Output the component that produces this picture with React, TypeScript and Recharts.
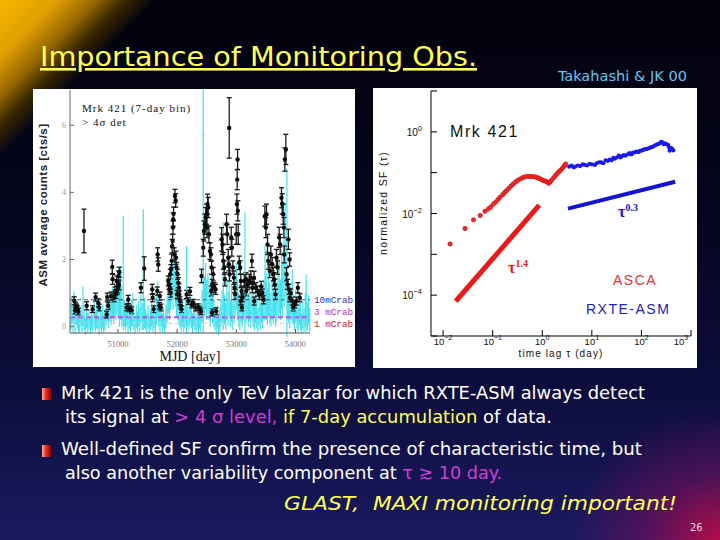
import { ScatterChart, Scatter, XAxis, YAxis, ErrorBar, ReferenceLine } from 'recharts';

const SERIF = "'Liberation Serif', 'DejaVu Serif', serif";
const SANS = "'Liberation Sans', Arial, sans-serif";
const MONO = "'Liberation Mono', 'DejaVu Sans Mono', monospace";
const SLIDE = "'DejaVu Sans Condensed', 'DejaVu Sans', sans-serif";

// ---- ASM light curve ----
// 7-day bins above 4 sigma: [MJD, rate (cts/s), error]
const weeklyBins: [number, number, number][] = [
  [50262, 0.77, 0.12], [50275, 0.48, 0.1], [50285, 0.62, 0.1], [50302, 0.57, 0.1], [50320, 0.52, 0.1],
  [50330, 0.45, 0.1], [50426, 2.85, 0.65], [50471, 0.62, 0.12], [50571, 0.52, 0.1], [50622, 0.88, 0.12],
  [50667, 0.71, 0.12], [50684, 0.57, 0.1], [50810, 0.36, 0.1], [50819, 0.88, 0.12], [50836, 0.62, 0.1],
  [50882, 0.91, 0.12], [50904, 1.78, 0.2], [50910, 1.41, 0.15], [50937, 0.86, 0.12], [50948, 1.06, 0.12],
  [50966, 0.96, 0.12], [50978, 1.36, 0.15], [50988, 1.08, 0.12], [51005, 1.16, 0.15], [51012, 1.51, 0.15],
  [51017, 1.24, 0.15], [51022, 1.62, 0.15], [51147, 0.57, 0.1], [51174, 0.81, 0.12], [51191, 0.54, 0.1],
  [51231, 0.49, 0.1], [51389, 1.16, 0.15], [51444, 1.73, 0.35], [51579, 1.11, 0.15], [51586, 0.86, 0.12],
  [51603, 0.52, 0.1], [51664, 1.06, 0.12], [51671, 2.15, 0.2], [51681, 1.85, 0.2], [51700, 0.62, 0.1],
  [51709, 0.91, 0.12], [51726, 0.57, 0.1], [51850, 1.36, 0.15], [51861, 1.26, 0.15], [51872, 1.11, 0.15],
  [51878, 1.16, 0.12], [51883, 1.56, 0.15], [51890, 1.0, 0.12], [51895, 1.7, 0.15], [51907, 1.96, 0.2],
  [51917, 2.4, 0.2], [51924, 2.55, 0.2], [51930, 2.95, 0.2], [51934, 3.19, 0.2], [51940, 3.36, 0.2],
  [51951, 2.15, 0.2], [51963, 3.89, 0.2], [51975, 3.76, 0.2], [51980, 2.05, 0.2], [51991, 1.76, 0.15],
  [51998, 0.96, 0.12], [52008, 1.56, 0.15], [52020, 1.31, 0.15], [52030, 1.16, 0.12], [52036, 0.96, 0.12],
  [52047, 0.77, 0.12], [52058, 0.62, 0.1], [52075, 0.52, 0.1], [52160, 0.96, 0.12], [52188, 0.76, 0.1],
  [52216, 1.05, 0.12], [52245, 0.66, 0.1], [52273, 0.71, 0.1], [52312, 0.57, 0.1], [52357, 0.58, 0.1],
  [52385, 0.51, 0.1], [52402, 0.46, 0.1], [52412, 1.51, 0.2], [52441, 2.35, 0.25], [52452, 2.85, 0.3],
  [52469, 3.05, 0.3], [52481, 3.25, 0.3], [52497, 3.35, 0.3], [52503, 2.95, 0.3], [52514, 3.65, 0.3],
  [52525, 3.55, 0.3], [52537, 2.75, 0.25], [52554, 2.25, 0.25], [52571, 2.15, 0.2], [52576, 1.06, 0.15],
  [52582, 1.76, 0.2], [52590, 0.42, 0.1], [52593, 1.26, 0.15], [52610, 1.56, 0.2], [52627, 1.16, 0.15],
  [52650, 1.11, 0.15], [52660, 0.46, 0.1], [52751, 2.6, 0.35], [52768, 2.45, 0.3], [52779, 1.96, 0.25],
  [52796, 1.76, 0.2], [52807, 1.41, 0.2], [52835, 3.05, 0.3], [52846, 2.75, 0.3], [52863, 2.05, 0.25],
  [52874, 1.86, 0.2], [52880, 5.92, 0.9], [52886, 1.56, 0.2], [52914, 2.66, 0.3], [52925, 2.35, 0.25],
  [52942, 1.76, 0.2], [52959, 1.46, 0.2], [52970, 1.16, 0.15], [52981, 0.96, 0.15], [52998, 2.75, 0.3],
  [53010, 3.65, 0.3], [53015, 4.38, 0.3], [53021, 4.98, 0.3], [53026, 3.45, 0.3], [53032, 2.75, 0.3],
  [53049, 1.9, 0.2], [53066, 1.76, 0.2], [53072, 0.76, 0.12], [53077, 1.36, 0.2], [53088, 1.06, 0.15],
  [53094, 0.57, 0.1], [53105, 0.86, 0.12], [53134, 1.36, 0.2], [53162, 1.41, 0.2], [53168, 1.06, 0.15],
  [53190, 1.26, 0.15], [53218, 1.36, 0.2], [53246, 1.46, 0.2], [53263, 1.96, 0.2], [53274, 1.16, 0.15],
  [53280, 1.3, 0.15], [53300, 1.45, 0.2], [53302, 0.76, 0.12], [53330, 1.16, 0.15], [53358, 1.06, 0.15],
  [53387, 0.96, 0.15], [53420, 1.2, 0.15], [53440, 1.0, 0.12], [53460, 0.8, 0.12], [53482, 3.29, 0.3],
  [53499, 2.95, 0.3], [53510, 3.35, 0.3], [53527, 2.45, 0.3], [53538, 1.96, 0.25], [53566, 1.66, 0.2],
  [53583, 2.15, 0.25], [53606, 1.86, 0.2], [53623, 1.56, 0.2], [53640, 1.41, 0.2], [53651, 1.26, 0.15],
  [53662, 0.96, 0.15], [53679, 2.05, 0.25], [53696, 1.76, 0.2], [53724, 2.66, 0.3], [53741, 2.45, 0.3],
  [53763, 3.84, 0.3], [53775, 3.66, 0.3], [53792, 3.35, 0.3], [53803, 2.95, 0.3], [53809, 2.15, 0.25],
  [53820, 4.98, 0.35], [53837, 5.28, 0.45], [53848, 1.56, 0.2], [53865, 1.26, 0.15], [53880, 2.6, 0.3],
  [53888, 1.11, 0.15], [53900, 2.0, 0.2], [53905, 0.86, 0.12], [53921, 1.0, 0.12], [53944, 0.76, 0.12],
  [53961, 0.57, 0.1], [53989, 0.66, 0.1], [54017, 0.76, 0.12], [54040, 1.16, 0.15], [54073, 0.86, 0.12],
];

// daily ASM points: [MJD, rate (cts/s), error]
const dailyPoints: [number, number, number][] = [
  [50205, 0.3, 0.4], [50220, 0.5, 0.4], [50240, 0.2, 0.35], [50258, 0.6, 0.45], [50275, 0.1, 0.3],
  [50295, 0.4, 0.35], [50315, 0.25, 0.3], [50335, 0.05, 0.25], [50355, 0.15, 0.3], [50378, 0.3, 0.3],
  [50395, 0.1, 0.25], [50410, 0.6, 0.6], [50430, 0.2, 0.3], [50450, 0.0, 0.25], [50470, 0.3, 0.35],
  [50490, 0.1, 0.3], [50512, 0.2, 0.3], [50535, 0.05, 0.25], [50555, 0.25, 0.3], [50575, 0.1, 0.25],
  [50598, 0.35, 0.4], [50620, 0.15, 0.3], [50640, 0.45, 0.5], [50660, 0.2, 0.3], [50680, 0.0, 0.25],
  [50700, 0.25, 0.3], [50720, 0.1, 0.3], [50742, 0.3, 0.35], [50760, 0.05, 0.25], [50780, 0.2, 0.3],
  [50800, 0.4, 0.35], [50822, 0.55, 0.4], [50845, 0.3, 0.35], [50865, 0.6, 0.45], [50885, 0.45, 0.4],
  [50905, 0.7, 0.45], [50925, 0.5, 0.4], [50945, 0.8, 0.5], [50965, 0.6, 0.4], [50985, 0.9, 0.5],
  [51005, 0.7, 0.45], [51025, 0.5, 0.5], [51045, 1.0, 0.8], [51065, 0.6, 0.6], [51090, 1.6, 1.7],
  [51110, 0.4, 0.4], [51130, 0.2, 0.3], [51150, 0.35, 0.35], [51170, 0.1, 0.3], [51190, 0.3, 0.35],
  [51210, 0.15, 0.3], [51230, 0.4, 0.4], [51250, 0.5, 0.5], [51270, 0.2, 0.3], [51290, 0.05, 0.25],
  [51310, 0.3, 0.35], [51330, 0.15, 0.3], [51350, 0.4, 0.4], [51370, 0.2, 0.35], [51390, 0.55, 0.45],
  [51410, 0.3, 0.4], [51428, 1.7, 1.8], [51450, 0.4, 0.45], [51470, 0.2, 0.3], [51490, 0.1, 0.3],
  [51510, 0.3, 0.35], [51530, 0.05, 0.25], [51550, 0.2, 0.3], [51570, 0.4, 0.4], [51590, 0.15, 0.3],
  [51610, 0.3, 0.35], [51630, 0.1, 0.3], [51650, 0.5, 0.45], [51672, 0.8, 0.55], [51690, 0.4, 0.4],
  [51710, 0.2, 0.35], [51730, 0.35, 0.35], [51750, 0.1, 0.3], [51770, 0.25, 0.3], [51790, 0.05, 0.25],
  [51810, 0.3, 0.35], [51830, 0.5, 0.4], [51850, 0.9, 0.5], [51870, 0.7, 0.5], [51890, 1.1, 0.6],
  [51910, 1.4, 0.6], [51930, 1.2, 0.7], [51950, 1.6, 0.7], [51970, 1.3, 0.7], [51990, 0.9, 0.6],
  [52010, 0.7, 0.5], [52030, 0.5, 0.45], [52050, 0.35, 0.4], [52070, 0.2, 0.35], [52090, 0.4, 0.4],
  [52110, 0.15, 0.3], [52130, 0.3, 0.35], [52150, 0.5, 0.45], [52160, 1.1, 1.3], [52180, 0.4, 0.4],
  [52200, 0.2, 0.3], [52220, 0.5, 0.45], [52240, 0.3, 0.35], [52260, 0.1, 0.3], [52280, 0.35, 0.35],
  [52300, 0.2, 0.3], [52320, 0.05, 0.25], [52340, 0.25, 0.3], [52360, 0.1, 0.3], [52380, 0.3, 0.35],
  [52400, 0.2, 0.35], [52420, 0.6, 0.5], [52441, 5.7, 5.9], [52460, 0.9, 0.6], [52480, 1.2, 0.7],
  [52500, 0.8, 0.6], [52520, 1.0, 0.6], [52540, 0.7, 0.5], [52560, 0.5, 0.5], [52580, 0.9, 0.6],
  [52600, 0.6, 0.5], [52620, 0.4, 0.4], [52640, 0.25, 0.35], [52660, 0.1, 0.3], [52680, 0.3, 0.35],
  [52700, 0.05, 0.3], [52720, 0.2, 0.35], [52740, 0.4, 0.4], [52760, 0.6, 0.5], [52780, 1.5, 1.6],
  [52800, 0.5, 0.45], [52820, 0.3, 0.4], [52840, 0.8, 0.6], [52860, 0.5, 0.5], [52880, 1.0, 0.7],
  [52900, 0.4, 0.4], [52920, 0.7, 0.55], [52940, 0.3, 0.4], [52960, 0.6, 0.5], [52980, 0.9, 0.6],
  [53000, 1.2, 0.7], [53020, 0.8, 0.6], [53040, 0.5, 0.5], [53060, 0.3, 0.4], [53080, 0.6, 0.5],
  [53100, 0.4, 0.4], [53120, 0.7, 0.5], [53145, 1.6, 1.8], [53165, 0.6, 0.5], [53185, 0.9, 0.6],
  [53205, 0.5, 0.5], [53225, 0.7, 0.55], [53245, 0.4, 0.45], [53265, 0.8, 0.6], [53285, 0.5, 0.5],
  [53305, 0.3, 0.4], [53325, 0.6, 0.5], [53345, 0.4, 0.45], [53365, 0.2, 0.35], [53385, 0.5, 0.45],
  [53405, 0.3, 0.4], [53425, 0.6, 0.5], [53445, 0.4, 0.45], [53465, 0.8, 0.6], [53485, 1.3, 1.1],
  [53505, 0.9, 0.7], [53525, 0.6, 0.55], [53545, 1.0, 0.7], [53565, 0.7, 0.6], [53585, 0.5, 0.5],
  [53605, 0.8, 0.6], [53625, 0.6, 0.5], [53645, 0.9, 0.6], [53665, 0.5, 0.5], [53685, 0.7, 0.55],
  [53705, 1.0, 0.7], [53725, 1.2, 0.8], [53745, 0.8, 0.6], [53765, 1.4, 0.9], [53785, 1.1, 0.8],
  [53805, 1.6, 1.0], [53825, 2.2, 1.5], [53855, 2.2, 2.5], [53870, 0.9, 0.7], [53885, 0.6, 0.5],
  [53905, 0.4, 0.45], [53925, 0.7, 0.5], [53945, 0.9, 0.8], [53965, 0.5, 0.45], [53985, 0.3, 0.4],
  [54005, 0.6, 0.5], [54025, 0.4, 0.45], [54045, 0.2, 0.35], [54065, 0.5, 0.45], [54085, 0.3, 0.4],
  [54105, 0.1, 0.3], [54125, 0.35, 0.4], [54145, 0.2, 0.35], [54165, 0.5, 0.5], [54180, 0.7, 0.85],
  [54200, 0.3, 0.4], [54220, 0.5, 0.45], [54240, 0.2, 0.35],
];

const crabLevels = [0.8, 0.28, 0.1];
const crabNames = ['10mCrab', '3 mCrab', '1 mCrab'];
const mjdTicks = [51000, 52000, 53000, 54000];
const mjdMinorTicks = [50500, 51000, 51500, 52000, 52500, 53000, 53500, 54000];
const rateTicks = [0, 2, 4, 6];

// ---- structure function ----
// ASCA: [lag (day), normalized SF]
const ascaSF: [number, number][] = [
  [0.0138, 0.0018], [0.0277, 0.0043], [0.041, 0.007], [0.056, 0.0089], [0.07, 0.0114], [0.082, 0.013],
  [0.092, 0.0145], [0.103, 0.017], [0.115, 0.019], [0.128, 0.022], [0.14, 0.025], [0.16, 0.029],
  [0.175, 0.033], [0.19, 0.036], [0.21, 0.041], [0.235, 0.047], [0.26, 0.053], [0.29, 0.059],
  [0.32, 0.065], [0.36, 0.07], [0.4, 0.075], [0.44, 0.078], [0.49, 0.081], [0.55, 0.081], [0.6, 0.08],
  [0.66, 0.08], [0.73, 0.078], [0.8, 0.075], [0.85, 0.073], [0.91, 0.07], [0.98, 0.067], [1.06, 0.064],
  [1.15, 0.062], [1.24, 0.06], [1.34, 0.055], [1.45, 0.06], [1.55, 0.066], [1.7, 0.075], [1.85, 0.085],
  [2.0, 0.095], [2.15, 0.105], [2.3, 0.112], [2.5, 0.125], [2.7, 0.14], [2.85, 0.15], [2.97, 0.163],
];
// RXTE-ASM: [lag (day), normalized SF]
const asmSF: [number, number][] = [
  [3.5, 0.14], [3.9, 0.15], [4.3, 0.135], [4.6, 0.14], [5.2, 0.15], [5.8, 0.145], [6.5, 0.16], [7.2, 0.155],
  [8.0, 0.15], [9.0, 0.165], [10, 0.16], [11.5, 0.155], [12.5, 0.17], [14, 0.18], [15.5, 0.178], [17, 0.17],
  [19, 0.2], [21, 0.195], [23, 0.21], [25, 0.2], [27, 0.23], [29, 0.22], [32, 0.235], [35, 0.26], [38, 0.235],
  [40, 0.25], [44, 0.27], [48, 0.26], [54, 0.286], [58, 0.3], [63, 0.28], [68, 0.31], [74, 0.315], [80, 0.33],
  [87, 0.32], [93, 0.34], [100, 0.345], [108, 0.36], [115, 0.37], [125, 0.38], [135, 0.39], [145, 0.4],
  [158, 0.42], [170, 0.43], [185, 0.46], [200, 0.48], [215, 0.5], [230, 0.52], [250, 0.57], [265, 0.55],
  [280, 0.5], [300, 0.52], [320, 0.5], [345, 0.48], [360, 0.42], [370, 0.345], [385, 0.38], [400, 0.4],
  [420, 0.38], [440, 0.35],
];
// power-law guides: SF ~ tau^1.4 and SF ~ tau^0.3
const steepFit: [number, number][] = [[0.018, 7.1e-5], [0.87, 0.016]];
const flatFit: [number, number][] = [[3.3, 0.0132], [480, 0.06]];
const lagTicks = [0.01, 0.1, 1, 10, 100, 1000];
const sfTicks = [1e-5, 1e-4, 1e-3, 1e-2, 1e-1, 1, 10];

const toRate = (rows: [number, number, number][]) => rows.map(([x, y, e]) => ({ x, y, e }));
const toXY = (rows: [number, number][]) => rows.map(([x, y]) => ({ x, y }));

function power(v: number) {
  const p = Math.round(Math.log10(v));
  return p < 0 ? `\u2212${-p}` : `${p}`;
}

function LagTick({ x, y, payload }: any) {
  return (
    <text x={x} y={y + 8.5} textAnchor="middle" fontSize={9.5} fontFamily={SANS} fill="#111">
      10<tspan dy={-4.5} fontSize={7}>{power(payload.value)}</tspan>
    </text>
  );
}

function SfTick({ x, y, payload }: any) {
  const p = Math.round(Math.log10(payload.value));
  if (p % 2 !== 0) return <g />;
  return (
    <text x={x - 9} y={y + 4} textAnchor="end" fontSize={10} fontFamily={SANS} fill="#111">
      10<tspan dy={-5} fontSize={7.5}>{power(payload.value)}</tspan>
    </text>
  );
}

const cyan = '#3fe2ee';
const crabLine = ['#48507a', '#b84cf2', '#e6c4c8'];
const crabText = ['#2f2fd0', '#c61fc6', '#e01515'];
// the three level names sit on a 12px pitch to the right of the frame
const crabTextShift = [3, -2, 4];

function crabLabel(i: number) {
  return (props: any) => {
    const vb = props.viewBox || {};
    return (
      <text
        x={vb.x + vb.width + 4} y={vb.y + crabTextShift[i]}
        fill={crabText[i]} fontSize={9.3} fontFamily={MONO}
      >
        {crabNames[i]}
      </text>
    );
  };
}

function LightCurve() {
  return (
    <ScatterChart width={322} height={278} margin={{ top: 1, right: 45, bottom: 0, left: 0 }}>
      <XAxis
        type="number" dataKey="x" domain={[50190, 54245]} allowDataOverflow ticks={mjdTicks}
        height={34} tickSize={-4} tickMargin={12} stroke="#555"
        tick={{ fontSize: 8.5, fill: '#777', fontFamily: SERIF }}
        label={{ value: 'MJD [day]', position: 'insideBottom', offset: 6, fill: '#111', fontSize: 14, fontFamily: SERIF }}
      />
      <XAxis
        xAxisId="top" orientation="top" type="number" domain={[50190, 54245]} allowDataOverflow
        ticks={mjdMinorTicks} height={0} tickSize={-3} tick={false} stroke="#c8c8c8"
      />
      <YAxis
        type="number" dataKey="y" domain={[-0.19, 7.05]} allowDataOverflow ticks={rateTicks}
        width={37} tickSize={-4} tickMargin={8} stroke="#666"
        tick={{ fontSize: 8, fill: '#999', fontFamily: SERIF }}
      />
      <YAxis
        yAxisId="right" orientation="right" type="number" domain={[-0.19, 7.05]} allowDataOverflow
        ticks={rateTicks} width={0} tickSize={-4} tick={false} stroke="#d8d8d8"
      />
      <Scatter
        data={toRate(dailyPoints)} isAnimationActive={false}
        shape={(p: any) => <circle cx={p.cx} cy={p.cy} r={1} fill={cyan} />}
      >
        <ErrorBar dataKey="e" direction="y" width={0} stroke={cyan} strokeWidth={1.2} />
      </Scatter>
      {crabLevels.map((lvl, i) => (
        <ReferenceLine
          key={crabNames[i]} y={lvl} stroke={crabLine[i]} strokeWidth={i === 1 ? 2 : 1}
          strokeDasharray={i === 1 ? '5 3' : '4 3'}
          label={crabLabel(i)}
        />
      ))}
      <Scatter
        data={toRate(weeklyBins)} isAnimationActive={false}
        shape={(p: any) => <circle cx={p.cx} cy={p.cy} r={2.2} fill="#0c0c0c" />}
      >
        <ErrorBar dataKey="e" direction="y" width={2.5} stroke="#1a1a1a" strokeWidth={1.3} />
      </Scatter>
    </ScatterChart>
  );
}

function StructureFunction() {
  return (
    <ScatterChart width={324} height={280} margin={{ top: 3, right: 6, bottom: 0, left: 0 }}>
      <XAxis
        type="number" dataKey="x" scale="log" domain={[0.0057, 1000]} allowDataOverflow ticks={lagTicks}
        height={32} tickSize={-6} tickMargin={6} stroke="#000" tick={<LagTick />}
        label={{ value: 'time lag \u03c4 (day)', position: 'insideBottom', offset: 11, fill: '#111', fontSize: 10, fontFamily: SANS, letterSpacing: 1.1 }}
      />
      <XAxis
        xAxisId="top" orientation="top" type="number" scale="log" domain={[0.0057, 1000]} allowDataOverflow
        ticks={lagTicks} height={0} tickSize={-6} tick={false} stroke="#000"
      />
      <YAxis
        type="number" dataKey="y" scale="log" domain={[1e-5, 10]} allowDataOverflow ticks={sfTicks}
        width={58} tickSize={-6} tickMargin={6} stroke="#000" tick={<SfTick />}
      />
      <YAxis
        yAxisId="right" orientation="right" type="number" scale="log" domain={[1e-5, 10]} allowDataOverflow
        ticks={sfTicks} width={0} tickSize={-6} tick={false} stroke="#000"
      />
      <Scatter
        data={toXY(steepFit)} isAnimationActive={false} line={{ stroke: '#ea1a1a', strokeWidth: 5 }}
        shape={() => <g />}
      />
      <Scatter
        data={toXY(flatFit)} isAnimationActive={false} line={{ stroke: '#1414d2', strokeWidth: 4 }}
        shape={() => <g />}
      />
      <Scatter
        data={toXY(ascaSF)} isAnimationActive={false}
        shape={(p: any) => <circle cx={p.cx} cy={p.cy} r={2.2} fill="#ee2a2a" stroke="#c81010" strokeWidth={0.6} />}
      />
      <Scatter
        data={toXY(asmSF)} isAnimationActive={false}
        shape={(p: any) => <circle cx={p.cx} cy={p.cy} r={2.1} fill="#1a1aee" />}
      />
    </ScatterChart>
  );
}

export default function App() {
  return (
    <div
      style={{
        position: 'absolute', left: 0, top: 0, width: 720, height: 540, overflow: 'hidden',
        background: [
          'linear-gradient(135deg, #f6b600 0%, #e0a000 4.5%, #9a6a00 7.5%, #3a2800 10%, rgba(0,0,0,0) 12.5%)',
          'radial-gradient(ellipse 150px 130px at 100% 100%, rgba(185,12,72,0.95) 0%, rgba(120,14,90,0.55) 50%, rgba(0,0,0,0) 100%)',
          'linear-gradient(180deg, #02020c 0%, #05051e 40%, #0e0e40 75%, #1a1a60 100%)',
        ].join(', '),
      }}
    >
      <svg width={720} height={540} style={{ position: 'absolute', left: 0, top: 0 }}>
        <defs>
          <linearGradient id="bullet" x1="0" y1="0" x2="1" y2="0">
            <stop offset="0%" stopColor="#ffb0a0" />
            <stop offset="45%" stopColor="#e82a20" />
            <stop offset="100%" stopColor="#8a0000" />
          </linearGradient>
        </defs>
        <text
          x={40} y={66} fill="#ffff55" fontSize={26} fontFamily={SLIDE}
          textLength={437} lengthAdjust="spacingAndGlyphs" style={{ textDecoration: 'underline' }}
        >
          Importance of Monitoring Obs.
        </text>
        <text x={558} y={81} fill="#62c6f2" fontSize={14} fontFamily={SLIDE} textLength={129} lengthAdjust="spacingAndGlyphs">
          Takahashi &amp; JK 00
        </text>
        <g fontFamily={SLIDE} fontSize={18} fill="#ffffff">
          <rect x={42} y={388} width={9} height={12} fill="url(#bullet)" />
          <text x={61} y={399} textLength={584} lengthAdjust="spacingAndGlyphs">
            Mrk 421 is the only TeV blazar for which RXTE-ASM always detect
          </text>
          <text x={65} y={423} textLength={487} lengthAdjust="spacingAndGlyphs">
            its signal at <tspan fill="#d23cd2">&gt; 4 σ level, </tspan>
            <tspan fill="#ffff55">if 7-day accumulation</tspan> of data.
          </text>
          <rect x={42} y={445} width={9} height={12} fill="url(#bullet)" />
          <text x={61} y={455} textLength={581} lengthAdjust="spacingAndGlyphs">
            Well-defined SF confirm the presence of characteristic time, but
          </text>
          <text x={65} y={479} textLength={437} lengthAdjust="spacingAndGlyphs">
            also another variability component at <tspan fill="#d23cd2">τ ≳ 10 day.</tspan>
          </text>
          <text x={284} y={510} fill="#ffff55" fontStyle="italic" fontSize={20} textLength={393} lengthAdjust="spacingAndGlyphs">
            {'GLAST,\u00a0\u00a0MAXI monitoring important!'}
          </text>
          <text x={690} y={531} fontSize={11} fill="#dddddd">26</text>
        </g>
      </svg>

      <div style={{ position: 'absolute', left: 33, top: 89, width: 322, height: 278, background: '#ffffff' }}>
        <LightCurve />
      </div>
      <div style={{ position: 'absolute', left: 373, top: 88, width: 324, height: 280, background: '#ffffff' }}>
        <StructureFunction />
      </div>

      <svg width={720} height={540} style={{ position: 'absolute', left: 0, top: 0, pointerEvents: 'none' }}>
        <text transform="translate(47,205) rotate(-90)" textAnchor="middle" fontSize={11.5} fontWeight="bold" fontFamily={SANS} fill="#222" letterSpacing={0.5}>
          ASM average counts [cts/s]
        </text>
        <text x={82} y={112} fontSize={11} fontFamily={SERIF} fill="#111" letterSpacing={1}>Mrk 421 (7-day bin)</text>
        <text x={82} y={126} fontSize={11} fontFamily={SERIF} fill="#111" letterSpacing={1}>&gt; 4σ det</text>

        <text transform="translate(387,203) rotate(-90)" textAnchor="middle" fontSize={10.5} fontFamily={SANS} fill="#111" letterSpacing={1.3}>
          normalized SF (τ)
        </text>
        <text x={450} y={137} fontSize={16} fontFamily={SANS} fill="#111" letterSpacing={1.6}>Mrk 421</text>
        <text x={613} y={285} fontSize={14} fontFamily={SANS} fill="#e03232" letterSpacing={1.5}>ASCA</text>
        <text x={586} y={314} fontSize={14} fontFamily={SANS} fill="#2020c0" letterSpacing={1.5}>RXTE-ASM</text>
        <text x={618} y={217} fontSize={16} fontWeight="bold" fontFamily={SERIF} fill="#1515c8">
          τ<tspan dy={-6} fontSize={10}>0.3</tspan>
        </text>
        <text x={508} y={273} fontSize={16} fontWeight="bold" fontFamily={SERIF} fill="#e02020">
          τ<tspan dy={-6} fontSize={10}>1.4</tspan>
        </text>
      </svg>
    </div>
  );
}
